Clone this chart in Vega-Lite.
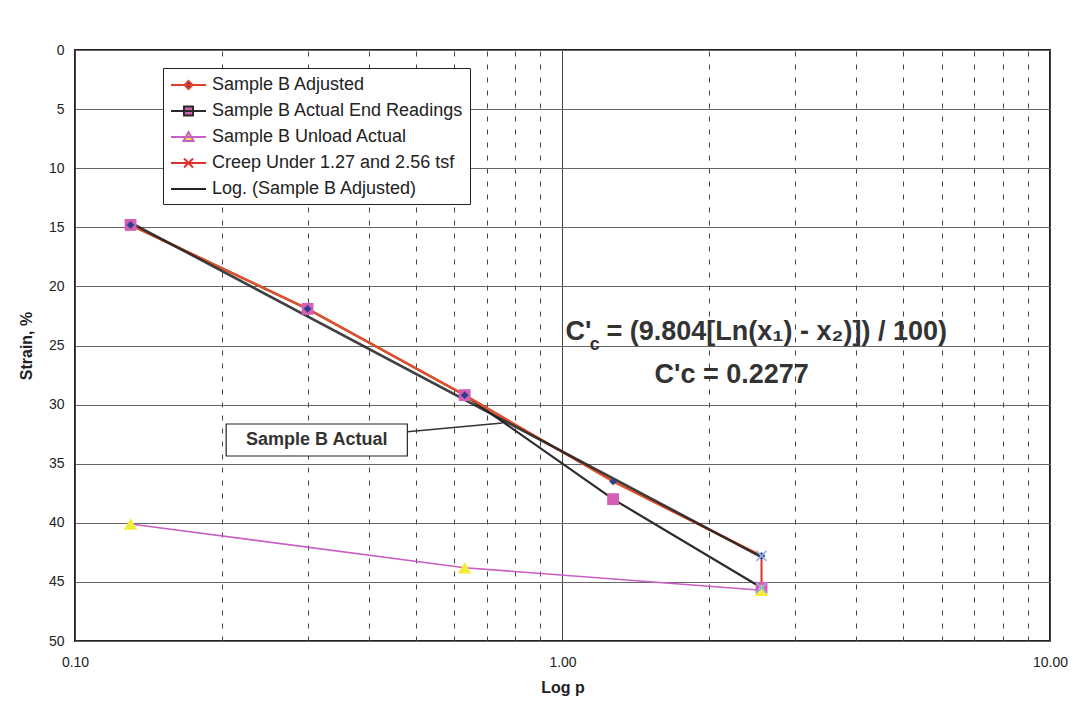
{
  "$schema": "https://vega.github.io/schema/vega-lite/v6.json",
  "width": 975,
  "height": 591,
  "autosize": {"type": "none"},
  "padding": {"left": 75, "top": 50, "right": 27, "bottom": 67},
  "background": "white",
  "config": {
    "font": "Liberation Sans",
    "view": {"stroke": "#222", "strokeWidth": 2},
    "legend": {
      "orient": "none",
      "legendX": 88,
      "legendY": 18,
      "direction": "vertical",
      "title": null,
      "labelFont": "Liberation Sans",
      "labelFontSize": 18,
      "labelColor": "#222",
      "labelLimit": 400,
      "symbolSize": 400,
      "symbolStrokeWidth": 2,
      "padding": 6,
      "rowPadding": 6,
      "labelOffset": 21,
      "fillColor": "white",
      "strokeColor": "#222",
      "cornerRadius": 0
    }
  },
  "encoding": {
    "x": {
      "field": "p",
      "type": "quantitative",
      "scale": {"type": "log", "domain": [0.1, 10], "nice": false},
      "axis": {
        "values": [0.1, 0.2, 0.3, 0.4, 0.5, 0.6, 0.7, 0.8, 0.9, 1, 2, 3, 4, 5, 6, 7, 8, 9, 10],
        "labelExpr": "datum.value == 0.1 || datum.value == 1 || datum.value == 10 ? format(datum.value, '.2f') : ''",
        "labelFontSize": 14,
        "labelColor": "#222",
        "labelPadding": 14,
        "labelFlush": false,
        "labelOverlap": false,
        "labelBound": false,
        "ticks": false,
        "domain": false,
        "grid": true,
        "gridColor": "#444",
        "gridWidth": 1,
        "gridOpacity": 1,
        "gridDash": {"condition": {"test": "datum.value == 0.1 || datum.value == 1 || datum.value == 10", "value": []}, "value": [5, 8]},
        "title": "Log p",
        "titleFontSize": 16,
        "titleFontWeight": "bold",
        "titleColor": "#222",
        "titlePadding": 10
      }
    },
    "y": {
      "field": "strain",
      "type": "quantitative",
      "scale": {"domain": [0, 50], "reverse": true, "nice": false, "zero": false},
      "axis": {
        "values": [0, 5, 10, 15, 20, 25, 30, 35, 40, 45, 50],
        "labelFontSize": 14,
        "labelColor": "#222",
        "labelPadding": 11,
        "labelOverlap": false,
        "labelBound": false,
        "grid": true,
        "gridColor": "#666",
        "gridWidth": 1,
        "ticks": false,
        "domain": false,
        "title": "Strain, %",
        "titleFontSize": 16,
        "titleFontWeight": "bold",
        "titleColor": "#222",
        "titlePadding": 14
      }
    }
  },
  "datasets": {
    "pts": [
      {"series": "Sample B Adjusted", "p": 0.13, "strain": 14.8},
      {"series": "Sample B Adjusted", "p": 0.3, "strain": 21.9},
      {"series": "Sample B Adjusted", "p": 0.63, "strain": 29.2},
      {"series": "Sample B Adjusted", "p": 1.27, "strain": 36.5},
      {"series": "Sample B Adjusted", "p": 2.56, "strain": 42.8},
      {"series": "Sample B Actual End Readings", "p": 0.13, "strain": 14.8},
      {"series": "Sample B Actual End Readings", "p": 0.3, "strain": 21.9},
      {"series": "Sample B Actual End Readings", "p": 0.63, "strain": 29.2},
      {"series": "Sample B Actual End Readings", "p": 1.27, "strain": 38.0},
      {"series": "Sample B Actual End Readings", "p": 2.56, "strain": 45.5},
      {"series": "Sample B Unload Actual", "p": 0.13, "strain": 40.1},
      {"series": "Sample B Unload Actual", "p": 0.63, "strain": 43.8},
      {"series": "Sample B Unload Actual", "p": 2.56, "strain": 45.7},
      {"series": "Creep Under 1.27 and 2.56 tsf", "p": 2.56, "strain": 42.8},
      {"series": "Creep Under 1.27 and 2.56 tsf", "p": 2.56, "strain": 45.5},
      {"series": "Log. (Sample B Adjusted)", "p": 0.13, "strain": 14.6},
      {"series": "Log. (Sample B Adjusted)", "p": 2.56, "strain": 42.9}
    ]
  },
  "layer": [
    {
      "data": {"name": "pts"},
      "transform": [{"filter": "datum.series === 'Sample B Unload Actual'"}],
      "mark": {"type": "line", "color": "#c95fc4", "strokeWidth": 1.6}
    },
    {
      "data": {"name": "pts"},
      "transform": [{"filter": "datum.series === 'Sample B Actual End Readings'"}],
      "mark": {"type": "line", "color": "#2a2a2a", "strokeWidth": 2.2}
    },
    {
      "data": {"name": "pts"},
      "transform": [{"filter": "datum.series === 'Sample B Adjusted'"}],
      "mark": {"type": "line", "color": "#e0502c", "strokeWidth": 2.5}
    },
    {
      "data": {"name": "pts"},
      "transform": [{"filter": "datum.series === 'Log. (Sample B Adjusted)'"}],
      "mark": {"type": "line", "color": "#1e1e1e", "strokeWidth": 2.6, "opacity": 0.85}
    },
    {
      "data": {"name": "pts"},
      "transform": [{"filter": "datum.series === 'Creep Under 1.27 and 2.56 tsf'"}],
      "mark": {"type": "line", "color": "#e0302a", "strokeWidth": 2}
    },
    {
      "data": {"name": "pts"},
      "transform": [{"filter": "datum.series === 'Sample B Actual End Readings'"}],
      "mark": {"type": "point", "shape": "square", "filled": true, "color": "#d55fb5", "size": 140, "opacity": 1}
    },
    {
      "data": {"name": "pts"},
      "transform": [{"filter": "datum.series === 'Sample B Unload Actual'"}],
      "mark": {"type": "point", "shape": "triangle-up", "filled": true, "color": "#f2ec3a", "size": 180, "opacity": 1}
    },
    {
      "data": {"name": "pts"},
      "transform": [{"filter": "datum.series === 'Sample B Adjusted'"}],
      "mark": {"type": "point", "shape": "diamond", "filled": true, "color": "#2b3f8c", "size": 60, "opacity": 1}
    },
    {
      "data": {"name": "pts"},
      "transform": [{"filter": "datum.series === 'Creep Under 1.27 and 2.56 tsf'"}],
      "mark": {"type": "point", "shape": "M-1,-1L1,1M-1,1L1,-1", "filled": false, "stroke": "#8fb3e0", "strokeWidth": 1.6, "size": 100, "opacity": 1}
    },
    {
      "data": {"values": [{"p": 0.2042, "p2": 0.4805, "strain": 31.64, "strain2": 34.35}]},
      "mark": {"type": "rect", "fill": "white", "stroke": "#222", "strokeWidth": 1.2},
      "encoding": {"x2": {"field": "p2"}, "y2": {"field": "strain2"}}
    },
    {
      "data": {"values": [{"p": 0.4805, "strain": 32.3}, {"p": 0.753, "strain": 31.56}]},
      "mark": {"type": "line", "color": "#333", "strokeWidth": 1.5}
    },
    {
      "data": {"values": [{"p": 0.3133, "strain": 33.0, "t": "Sample B Actual"}]},
      "mark": {"type": "text", "font": "Liberation Sans", "fontSize": 18, "fontWeight": "bold", "color": "#333", "align": "center", "baseline": "middle"},
      "encoding": {"text": {"field": "t"}}
    },
    {
      "data": {"values": [{"p": 1.0143, "strain": 23.86, "t": "C'\u00a0\u00a0= (9.804[Ln(x₁) - x₂)]) / 100)"}]},
      "mark": {"type": "text", "font": "Liberation Sans", "fontSize": 27, "fontWeight": "bold", "color": "#333", "align": "left", "baseline": "middle"},
      "encoding": {"text": {"field": "t"}}
    },
    {
      "data": {"values": [{"p": 1.165, "strain": 24.96, "t": "c"}]},
      "mark": {"type": "text", "font": "Liberation Sans", "fontSize": 18, "fontWeight": "bold", "color": "#333", "align": "center", "baseline": "middle"},
      "encoding": {"text": {"field": "t"}}
    },
    {
      "data": {"values": [{"p": 2.223, "strain": 27.5, "t": "C'c = 0.2277"}]},
      "mark": {"type": "text", "font": "Liberation Sans", "fontSize": 27, "fontWeight": "bold", "color": "#333", "align": "center", "baseline": "middle"},
      "encoding": {"text": {"field": "t"}}
    },
    {
      "data": {"values": []},
      "mark": {"type": "point", "filled": true, "opacity": 1},
      "encoding": {
        "shape": {
          "field": "series", "type": "nominal",
          "scale": {
            "domain": ["Sample B Adjusted", "Sample B Actual End Readings", "Sample B Unload Actual", "Creep Under 1.27 and 2.56 tsf", "Log. (Sample B Adjusted)"],
            "range": [
              "M-0.9,0H2.6M0.85,-0.4L1.25,0L0.85,0.4L0.45,0Z",
              "M-0.9,0H2.6M0.4,-0.45H1.3V0.45H0.4Z",
              "M-0.9,0H2.6M0.85,-0.5L1.35,0.4H0.35Z",
              "M-0.9,0H2.6M0.4,-0.45L1.3,0.45M0.4,0.45L1.3,-0.45",
              "M-0.9,0H2.6"
            ]
          }
        },
        "fill": {
          "field": "series", "type": "nominal",
          "scale": {
            "domain": ["Sample B Adjusted", "Sample B Actual End Readings", "Sample B Unload Actual", "Creep Under 1.27 and 2.56 tsf", "Log. (Sample B Adjusted)"],
            "range": ["#2b3f8c", "#d55fb5", "#f2ec3a", "#8fb3e0", "#222222"]
          }
        },
        "stroke": {
          "field": "series", "type": "nominal",
          "scale": {
            "domain": ["Sample B Adjusted", "Sample B Actual End Readings", "Sample B Unload Actual", "Creep Under 1.27 and 2.56 tsf", "Log. (Sample B Adjusted)"],
            "range": ["#e0402c", "#2a2a2a", "#c95fc4", "#e0302a", "#222222"]
          }
        }
      }
    }
  ]
}
